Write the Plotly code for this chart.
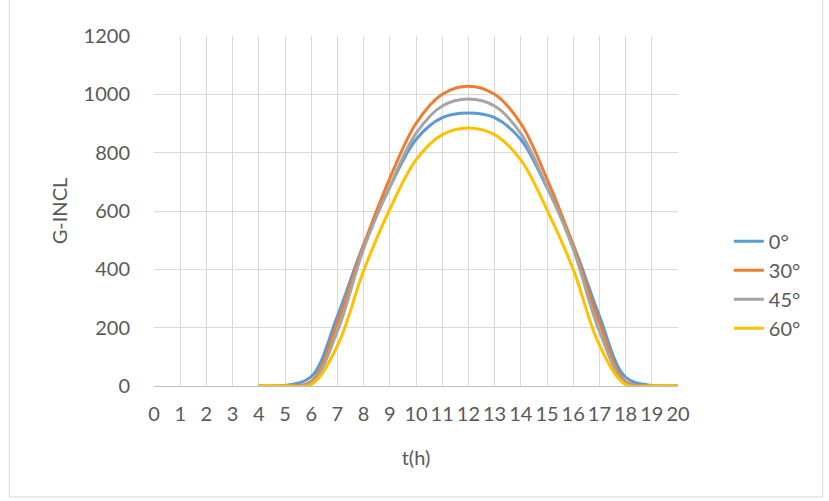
import plotly.graph_objects as go

# Hours of the day shown on the category axis
hours = list(range(0, 21))

# Global irradiance on the inclined plane for each tilt angle (hours 4..20)
data_hours = list(range(4, 21))
g_0 = [0, 2, 32, 240, 485, 682, 845, 920, 936, 920, 845, 680, 485, 240, 30, 2, 0]
g_30 = [0, 1, 16, 217, 482, 712, 900, 1000, 1028, 1000, 900, 710, 482, 217, 15, 1, 0]
g_45 = [0, 1, 10, 188, 470, 684, 866, 960, 984, 960, 866, 684, 470, 188, 10, 1, 0]
g_60 = [0, 0, 5, 138, 395, 606, 775, 862, 885, 862, 775, 604, 400, 140, 5, 0, 0]

series = [
    ("0°", g_0, "#5B9BD5"),
    ("30°", g_30, "#ED7D31"),
    ("45°", g_45, "#A5A5A5"),
    ("60°", g_60, "#FFC000"),
]

y_ticks = [0, 200, 400, 600, 800, 1000, 1200]

FONT = "Lato"
TXT = "#595959"
FS = 20

fig = go.Figure()
for name, vals, color in series:
    fig.add_trace(go.Scatter(
        x=data_hours, y=vals, name=name, mode="lines",
        line=dict(color=color, width=3, shape="spline", smoothing=1.0),
    ))

fig.update_layout(
    width=829, height=501,
    margin=dict(l=154, r=151, t=36, b=115),
    paper_bgcolor="white", plot_bgcolor="white",
    font=dict(family=FONT, color=TXT, size=FS),
    showlegend=True,
    legend=dict(
        x=1.097, y=0.289, xanchor="left", yanchor="middle",
        font=dict(size=FS, color=TXT, family=FONT),
        tracegroupgap=0, itemwidth=30,
        bgcolor="rgba(0,0,0,0)",
    ),
    xaxis=dict(
        range=[0, 20], tickmode="array", tickvals=hours,
        ticktext=[str(h) for h in hours],
        showgrid=True, gridcolor="#d9d9d9", gridwidth=1,
        showline=True, linecolor="#bfbfbf", linewidth=1,
        zeroline=False, ticks="", ticklabelstandoff=10,
        tickfont=dict(size=FS, color=TXT, family=FONT),
        title=dict(text="t(h)", font=dict(size=FS, color=TXT, family=FONT), standoff=26),
    ),
    yaxis=dict(
        range=[0, 1200], tickmode="array", tickvals=y_ticks,
        showgrid=True, gridcolor="#d9d9d9", gridwidth=1,
        showline=False, zeroline=False, ticks="", ticklabelstandoff=23,
        tickfont=dict(size=FS, color=TXT, family=FONT),
        title=dict(text="G-INCL", font=dict(size=FS, color=TXT, family=FONT), standoff=10),
    ),
)

# Chart frame around the whole figure
fig.add_shape(
    type="rect", xref="paper", yref="paper",
    x0=-0.276, x1=1.276, y0=-0.317, y1=1.12,
    line=dict(color="#d9d9d9", width=1), layer="below",
)

fig.write_html("out.html")
